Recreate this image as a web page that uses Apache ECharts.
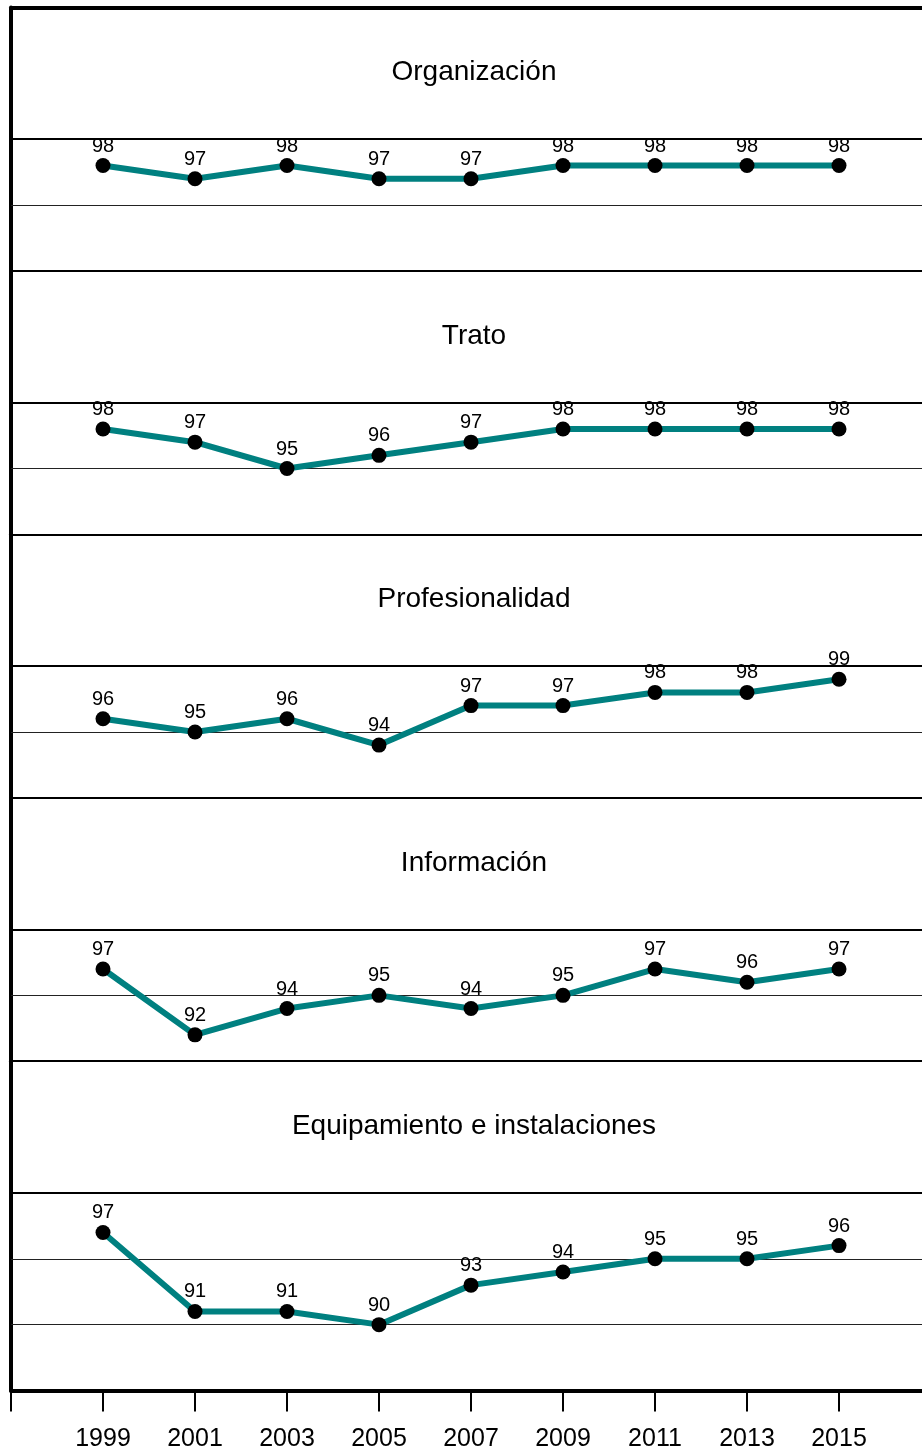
<!DOCTYPE html>
<html>
<head>
<meta charset="utf-8">
<script src="https://cdn.jsdelivr.net/npm/echarts@6/dist/echarts.min.js"></script>
<style>
  html, body { margin: 0; padding: 0; background: #fff; }
  #chart { width: 922px; height: 1454px; }
</style>
</head>
<body>
<div id="chart"></div>
<script>
// Survey years (x positions) and the year labels printed under the axis
const years = [1999, 2001, 2003, 2005, 2007, 2009, 2011, 2013, 2015];
const yearLabels = ['1999', '2001', '2003', '2005', '2007', '2009', '2011', '2013', '2015'];

// Satisfaction score per dimension and year
const organizacion = [98, 97, 98, 97, 97, 98, 98, 98, 98];
const trato = [98, 97, 95, 96, 97, 98, 98, 98, 98];
const profesionalidad = [96, 95, 96, 94, 97, 97, 98, 98, 99];
const informacion = [97, 92, 94, 95, 94, 95, 97, 96, 97];
const equipamiento = [97, 91, 91, 90, 93, 94, 95, 95, 96];

const panelTitles = ['Organización', 'Trato', 'Profesionalidad', 'Información', 'Equipamiento e instalaciones'];
const panelValues = [organizacion, trato, profesionalidad, informacion, equipamiento];
// Value range shown in each panel (the last one reaches further down)
const panelMin = [90, 90, 90, 90, 85];
const panelMax = [110, 110, 110, 110, 110];
// Reference lines inside each panel
const panelRefLines = [[100, 95], [100, 95], [100, 95], [100, 95], [100, 95, 90]];

const FONT = '"Liberation Sans", Arial, sans-serif';
const TEAL = '#008080';

// Vertical layout: all panels share the same pixels-per-point scale
const plotTop = 7.5;
const plotBottom = 1390.5;
const totalUnits = panelMax.reduce((s, m, i) => s + (m - panelMin[i]), 0);
const unitPx = (plotBottom - plotTop) / totalUnits;

const grids = [], xAxes = [], yAxes = [], series = [], titles = [];
let cursor = plotTop;
panelValues.forEach((vals, i) => {
  const h = (panelMax[i] - panelMin[i]) * unitPx;
  const last = i === panelValues.length - 1;
  // the plot area runs a little past the right edge of the canvas
  grids.push({ left: 11, width: 920, top: cursor, height: h, containLabel: false, outerBoundsMode: 'none' });

  xAxes.push({
    type: 'value', gridIndex: i, min: 1997, max: 2017, interval: 2,
    axisLine: { show: true, onZero: false, lineStyle: { color: '#000', width: last ? 4 : 2 } },
    axisTick: { show: last, length: 21, lineStyle: { color: '#000', width: 2 } },
    axisLabel: {
      show: last, margin: 36, color: '#000', fontSize: 25, fontFamily: FONT,
      formatter: v => { const k = years.indexOf(v); return k >= 0 ? yearLabels[k] : ''; }
    },
    splitLine: { show: false }
  });

  yAxes.push({
    type: 'value', gridIndex: i, min: panelMin[i], max: panelMax[i], interval: 5,
    axisLine: { show: true, onZero: false, lineStyle: { color: '#000', width: 4 } },
    axisTick: { show: false }, axisLabel: { show: false }, splitLine: { show: false }
  });

  const lines = panelRefLines[i].map(v => ({
    yAxis: v,
    lineStyle: v === 100 ? { color: '#000', width: 2, type: 'solid' } : { color: '#222', width: 1, type: 'solid' }
  }));
  if (i === 0) lines.push({ yAxis: panelMax[i], lineStyle: { color: '#000', width: 4, type: 'solid' } });

  series.push({
    type: 'line', xAxisIndex: i, yAxisIndex: i,
    data: years.map((y, k) => [y, vals[k]]),
    symbol: 'circle', symbolSize: 15,
    itemStyle: { color: '#000' },
    lineStyle: { color: TEAL, width: 6 },
    label: { show: true, position: 'top', distance: 2, color: '#000', fontSize: 20, fontFamily: FONT,
             formatter: p => p.value[1] },
    z: 3,
    animation: false,
    markLine: { silent: true, symbol: 'none', label: { show: false }, animation: false, z: 1, data: lines }
  });

  titles.push({
    text: panelTitles[i], left: 474, top: cursor + 51, textAlign: 'center', padding: 0,
    textStyle: { color: '#000', fontSize: 28, fontWeight: 'normal', fontFamily: FONT }
  });

  cursor += h;
});

const chart = echarts.init(document.getElementById('chart'), null, { renderer: 'canvas' });
chart.setOption({
  backgroundColor: '#fff',
  animation: false,
  title: titles,
  grid: grids,
  xAxis: xAxes,
  yAxis: yAxes,
  series: series
});
</script>
</body>
</html>
